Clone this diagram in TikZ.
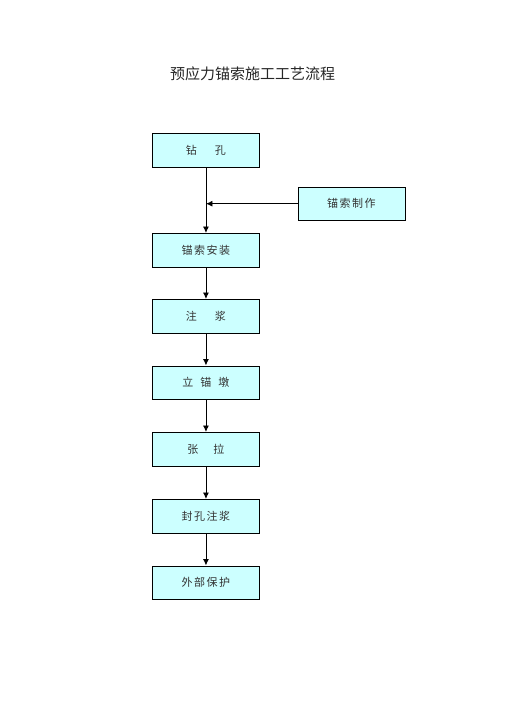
\documentclass[tikz,border=0pt]{standalone}
\usepackage{fontspec}
\newfontfamily\cjk{Noto Sans CJK SC}
\usetikzlibrary{arrows.meta}
\definecolor{boxfill}{RGB}{204,255,255}
\newcommand{\gs}{\hspace{1.5pt}}
\begin{document}
\begin{tikzpicture}[x=1pt,y=-1pt,
  stepbox/.style={draw=black,line width=0.9pt,fill=boxfill,minimum width=107pt,minimum height=33.5pt,inner sep=0pt,font=\cjk\fontsize{11}{12}\selectfont,text=black!80,anchor=north west},
  arr/.style={line width=0.9pt,-{Latex[length=6.5pt,width=6pt]}}]
\useasboundingbox (0,0) rectangle (504,713);
\node[font=\cjk\fontsize{15}{16}\selectfont,text=black!85] (title) at (252.5,74) {预应力锚索施工工艺流程};
\node[stepbox] (b1) at (152,133) {钻\hspace{18pt}孔};
\node[stepbox] (side) at (297.5,186.5) {锚\gs 索\gs 制\gs 作};
\node[stepbox] (b2) at (152,233) {锚\gs 索\gs 安\gs 装};
\node[stepbox] (b3) at (152,299) {注\hspace{18pt}浆};
\node[stepbox] (b4) at (152,365.5) {立\hspace{7pt}锚\hspace{7pt}墩};
\node[stepbox] (b5) at (152,432) {张\hspace{15pt}拉};
\node[stepbox] (b6) at (152,499) {封\gs 孔\gs 注\gs 浆};
\node[stepbox] (b7) at (152,565.5) {外\gs 部\gs 保\gs 护};
\coordinate (j) at (b1.south |- side.west);
\draw[arr] (b1) -- (b2);
\draw[arr] (side.west) -- (j);
\draw[arr] (b2) -- (b3);
\draw[arr] (b3) -- (b4);
\draw[arr] (b4) -- (b5);
\draw[arr] (b5) -- (b6);
\draw[arr] (b6) -- (b7);
\end{tikzpicture}
\end{document}
